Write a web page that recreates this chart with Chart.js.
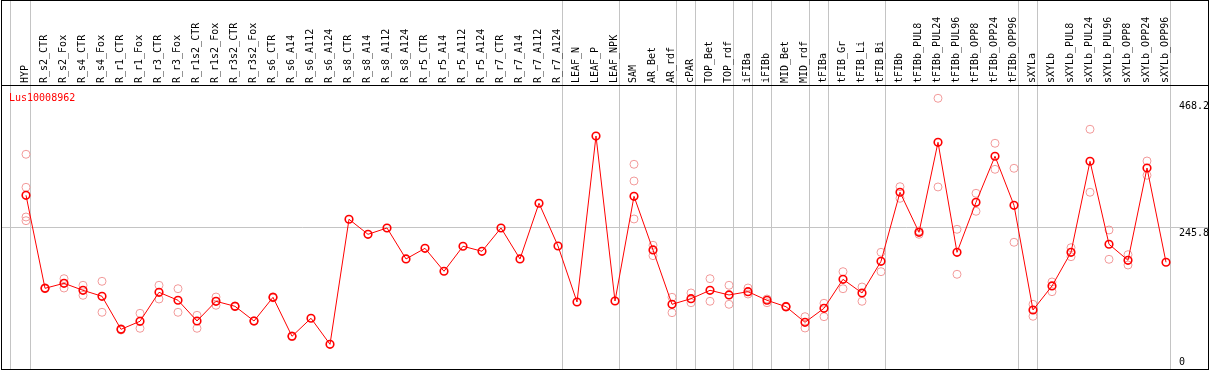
<!DOCTYPE html>
<html>
<head>
<meta charset="utf-8">
<script src="https://cdn.jsdelivr.net/npm/chart.js@4/dist/chart.umd.min.js"></script>
<style>
  html, body { margin: 0; padding: 0; background: #fff; }
  #wrap { width: 1209px; height: 370px; }
</style>
</head>
<body>
<div id="wrap"><canvas id="c" width="1209" height="370"></canvas></div>
<script>
const geneName = 'Lus10008962';

const categories = [
  'HYP','R_s2_CTR','R_s2_Fox','R_s4_CTR','R_s4_Fox','R_r1_CTR','R_r1_Fox','R_r3_CTR','R_r3_Fox',
  'R_r1s2_CTR','R_r1s2_Fox','R_r3s2_CTR','R_r3s2_Fox','R_s6_CTR','R_s6_A14','R_s6_A112','R_s6_A124',
  'R_s8_CTR','R_s8_A14','R_s8_A112','R_s8_A124','R_r5_CTR','R_r5_A14','R_r5_A112','R_r5_A124',
  'R_r7_CTR','R_r7_A14','R_r7_A112','R_r7_A124','LEAF_N','LEAF_P','LEAF_NPK','SAM','AR_Bet','AR_rdf',
  'cPAR','TOP_Bet','TOP_rdf','iFIBa','iFIBb','MID_Bet','MID_rdf','tFIBa','tFIB_Gr','tFIB_Li','tFIB_Bi',
  'tFIBb','tFIBb_PUL8','tFIBb_PUL24','tFIBb_PUL96','tFIBb_OPP8','tFIBb_OPP24','tFIBb_OPP96',
  'sXYLa','sXYLb','sXYLb_PUL8','sXYLb_PUL24','sXYLb_PUL96','sXYLb_OPP8','sXYLb_OPP24','sXYLb_OPP96'
];

const meanValues = [
  303.2,139.9,148.7,136.4,125.9,67.9,82.0,132.9,118.9,82.5,117.1,108.3,82.5,124.1,55.7,87.3,41.6,
  261.1,234.7,245.8,191.4,210.1,169.8,213.7,204.9,245.8,191.4,289.2,214.2,115.9,407.3,117.6,301.4,
  207.2,111.8,121.7,136.4,128.2,134.0,118.9,107.6,80.2,104.8,155.7,131.7,187.3,308.5,238.2,396.2,
  203.1,290.9,371.7,285.6,101.8,144.0,203.1,362.9,217.2,189.1,351.1,185.6
];

const replicateValues = [
  [375.2,317.2,265.1,258.6],[141.0,139.2],[156.8,140.4],[145.2,127.6],[152.2,97.8],[69.0,66.7],
  [96.0,69.7],[145.2,121.1],[139.2,97.8],[92.5,69.7],[124.6,110.1],[109.0,107.6],[83.0,82.0],
  [125.0,123.2],[56.5,55.0],[],[],[],[],[],[],[],[],[],[],[],[],[],[],[],[],[],
  [357.6,328.3,261.6],[215.4,197.2],[124.1,97.1],[131.7,114.6],[156.8,117.1],[145.2,111.8],
  [140.4,129.9],[121.1,114.6],[108.5,106.7],[90.1,70.2],[113.6,90.1],[169.1,139.2],[142.2,117.1],
  [203.1,169.1],[318.3,297.9],[234.7,240.5],[473.5,317.8],[243.5,164.5],[306.7,275.1],[394.5,348.8],
  [350.6,220.7],[111.8,90.8],[151.0,134.0],[211.2,195.4],[419.1,308.5],[242.3,190.8],[198.9,180.8],
  [363.4,338.3],[]
];

const yTickValues = [0, 245.8, 468.2];
const yTickLabels = ['0', '245.8', '468.2'];

// indices of the last category of each group (a grey separator follows it)
const groupEnds = [0, 28, 31, 34, 35, 37, 38, 39, 41, 42, 45, 52, 53, 60];

const FONT = 'DejaVu Sans Mono';
const separators = [-0.79].concat(groupEnds.map(i => i + 0.26));
const isSep = v => !Number.isInteger(v);

const mainPoints = meanValues.map((v, i) => ({ x: i, y: v }));
const repPoints = [];
replicateValues.forEach((arr, i) => arr.forEach(v => repPoints.push({ x: i, y: v })));

const framePlugin = {
  id: 'frame',
  afterDraw(chart) {
    const ctx = chart.ctx;
    const a = chart.chartArea;
    ctx.save();
    ctx.strokeStyle = '#000';
    ctx.lineWidth = 1;
    ctx.strokeRect(1.5, 0.5, 1207, 369);
    ctx.fillStyle = '#ff0000';
    ctx.font = '10px "' + FONT + '"';
    ctx.textBaseline = 'alphabetic';
    ctx.textAlign = 'left';
    ctx.fillText(geneName, a.left + 8, a.top + 16);
    ctx.restore();
  }
};

new Chart(document.getElementById('c'), {
  type: 'line',
  data: {
    datasets: [
      {
        label: 'mean',
        data: mainPoints,
        borderColor: '#ff0000',
        borderWidth: 1,
        pointRadius: 3.8,
        pointBorderWidth: 1.6,
        pointBorderColor: '#ff0000',
        pointBackgroundColor: 'rgba(0,0,0,0)',
        tension: 0,
        order: 0
      },
      {
        label: 'replicates',
        data: repPoints,
        showLine: false,
        pointRadius: 4,
        pointBorderWidth: 1,
        pointBorderColor: '#f29a9a',
        pointBackgroundColor: 'rgba(0,0,0,0)',
        order: 1
      }
    ]
  },
  options: {
    responsive: false,
    animation: false,
    layout: { autoPadding: false, padding: { left: 1, right: 0, top: 0, bottom: 1 } },
    plugins: { legend: { display: false }, tooltip: { enabled: false }, title: { display: false } },
    scales: {
      x: {
        type: 'linear',
        position: 'top',
        min: -25 / 19,
        max: -25 / 19 + 1207 / 19,
        afterBuildTicks: s => {
          s.ticks = categories.map((_, i) => ({ value: i })).concat(separators.map(v => ({ value: v })));
        },
        afterFit: s => {
          s.height = 85;
          s.paddingLeft = 0;
          s.paddingRight = 0;
          s.paddingTop = 0;
          s.paddingBottom = 0;
        },
        ticks: {
          autoSkip: false,
          minRotation: 90,
          maxRotation: 90,
          padding: -83,
          color: '#000',
          font: { family: FONT, size: 10, lineHeight: 0.1 },
          callback: v => (Number.isInteger(v) ? categories[v] : '')
        },
        grid: {
          drawTicks: true,
          tickLength: 85,
          drawOnChartArea: true,
          lineWidth: 1,
          color: ctx => (ctx.tick && isSep(ctx.tick.value) ? '#c4c4c4' : 'rgba(0,0,0,0)')
        },
        border: { display: true, color: '#000', width: 1 }
      },
      y: {
        type: 'linear',
        position: 'right',
        min: -1.76,
        max: 496.8,
        afterBuildTicks: s => { s.ticks = yTickValues.map(v => ({ value: v })); },
        afterFit: s => {
          s.width = 1;
          s.paddingTop = 0;
          s.paddingBottom = 0;
        },
        ticks: {
          mirror: true,
          padding: 1,
          crossAlign: 'far',
          color: '#000',
          font: { family: FONT, size: 10, lineHeight: 1.1 },
          callback: (v, i) => (i === 0 ? [yTickLabels[i], ''] : ['', yTickLabels[i]])
        },
        grid: {
          drawTicks: false,
          lineWidth: 1,
          color: ctx => (ctx.tick && ctx.tick.value === 245.8 ? '#c4c4c4' : 'rgba(0,0,0,0)')
        },
        border: { display: false }
      }
    }
  },
  plugins: [framePlugin]
});
</script>
</body>
</html>
